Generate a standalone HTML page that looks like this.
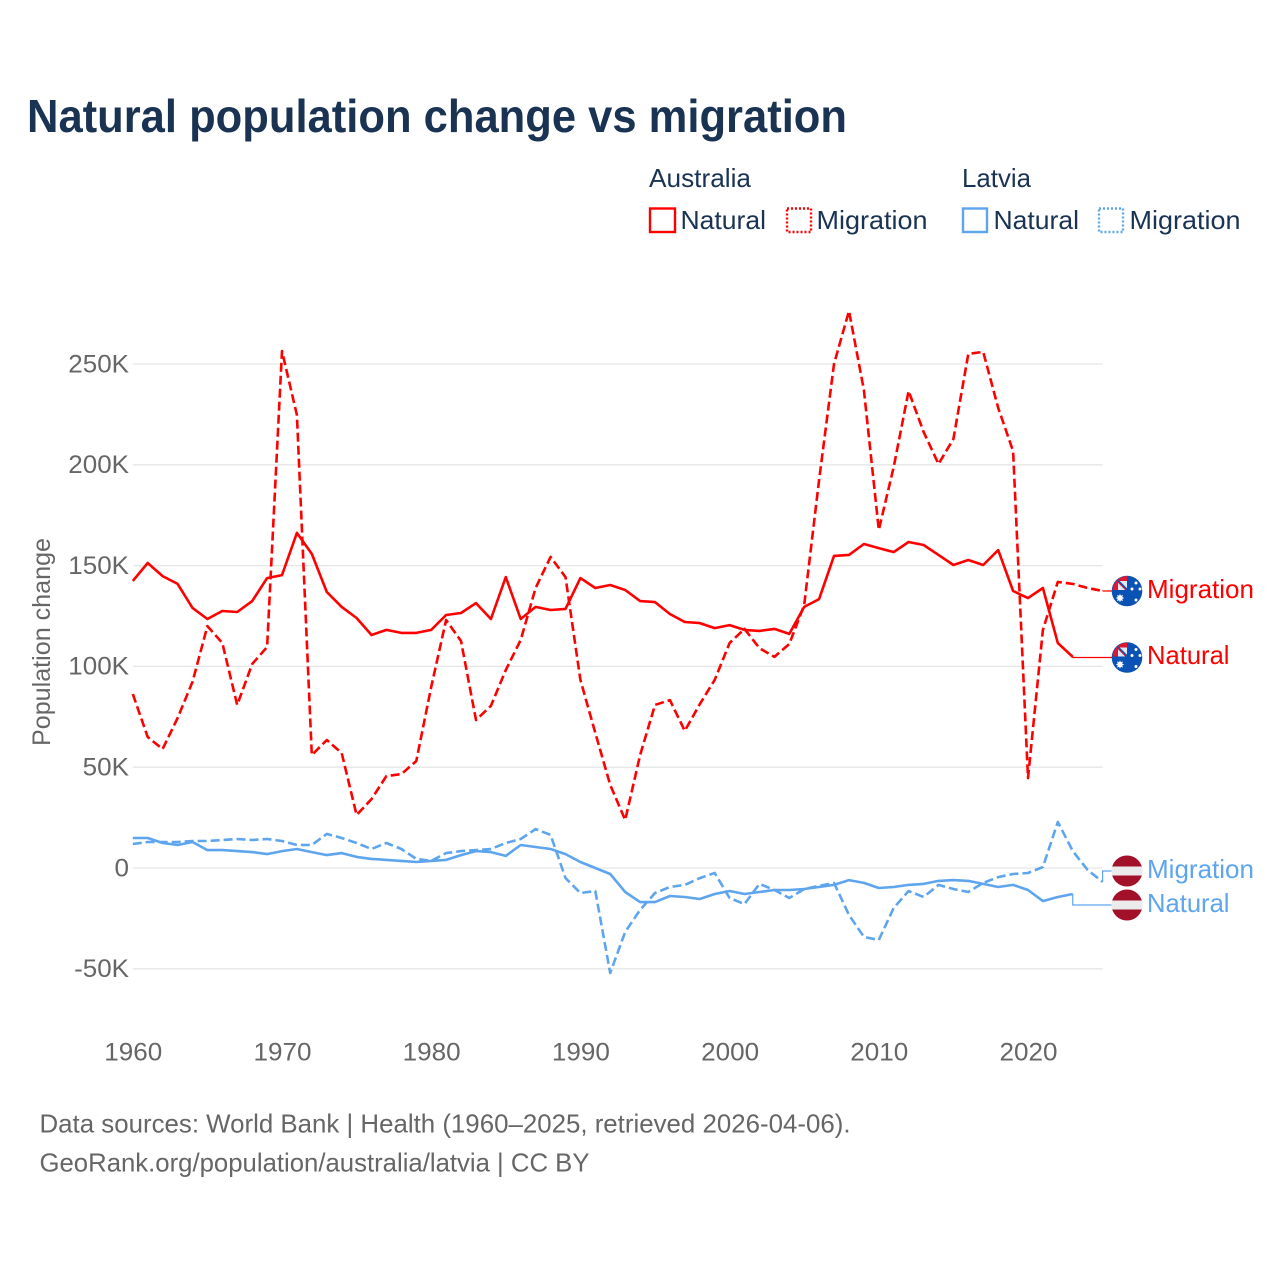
<!DOCTYPE html>
<html lang="en">
<head>
<meta charset="utf-8">
<title>Natural population change vs migration</title>
<style>
html,body{margin:0;padding:0;background:#fff;}
svg{display:block;font-family:"Liberation Sans",sans-serif;}
</style>
</head>
<body>
<svg id="chart" xmlns="http://www.w3.org/2000/svg" width="1280" height="1280" viewBox="0 0 1280 1280">
  <rect x="0" y="0" width="1280" height="1280" fill="#fff"/>
  <text x="27" y="132" font-size="46" font-weight="700" fill="#1a3353" textLength="820" lengthAdjust="spacingAndGlyphs">Natural population change vs migration</text>

  <g font-size="26" fill="#1a3353">
    <text x="649" y="187" textLength="102" lengthAdjust="spacingAndGlyphs">Australia</text>
    <text x="962" y="187" textLength="69" lengthAdjust="spacingAndGlyphs">Latvia</text>
    <g>
      <rect x="650" y="208.5" width="25" height="23.5" fill="none" stroke="#ff0000" stroke-width="2.4"/>
      <text x="680.5" y="229" textLength="85.5" lengthAdjust="spacingAndGlyphs">Natural</text>
    </g>
    <g>
      <rect x="787" y="208.5" width="24" height="23.5" fill="none" stroke="#ff0000" stroke-width="2.4" stroke-dasharray="2 2"/>
      <text x="816.5" y="229" textLength="111" lengthAdjust="spacingAndGlyphs">Migration</text>
    </g>
    <g>
      <rect x="963" y="208.5" width="24" height="23.5" fill="none" stroke="#5ea5ee" stroke-width="2.4"/>
      <text x="993.5" y="229" textLength="85.5" lengthAdjust="spacingAndGlyphs">Natural</text>
    </g>
    <g>
      <rect x="1099" y="208.5" width="24" height="23.5" fill="none" stroke="#5ea5ee" stroke-width="2.4" stroke-dasharray="2 2"/>
      <text x="1129.5" y="229" textLength="111" lengthAdjust="spacingAndGlyphs">Migration</text>
    </g>
  </g>

  <g id="grid"></g>
  <g id="yticks" font-size="25" fill="#666"></g>
  <g id="xticks" font-size="25" fill="#666"></g>
  <text transform="translate(50,746) rotate(-90)" x="0" y="0" font-size="25" fill="#666" textLength="208" lengthAdjust="spacingAndGlyphs">Population change</text>

  <g id="series" fill="none"></g>
  <g id="labels"></g>

  <g font-size="26" fill="#666">
    <text x="39.5" y="1132.5" textLength="811" lengthAdjust="spacingAndGlyphs">Data sources: World Bank | Health (1960–2025, retrieved 2026-04-06).</text>
    <text x="39.5" y="1171.5" textLength="550" lengthAdjust="spacingAndGlyphs">GeoRank.org/population/australia/latvia | CC BY</text>
  </g>
</svg>
<script>
const startYear = 1960;
const xTickYears = [1960, 1970, 1980, 1990, 2000, 2010, 2020];
const yTickValues = [-50, 0, 50, 100, 150, 200, 250];
const australiaNatural = [142.4,151.3,144.8,140.9,129,123.5,127.5,127,132.4,143.8,
  145.3,166.2,155.8,136.9,129.5,124,115.6,118.1,116.6,116.6,
  118.1,125.5,126.5,131.4,123.5,144.3,123.5,129.5,128,128.5,
  143.8,138.9,140.4,137.9,132.4,131.9,126,122,121.5,119,
  120.5,118.1,117.6,118.6,116.1,129.5,133.4,154.8,155.3,160.7,
  158.7,156.7,161.7,160.2,155.3,150.3,152.8,150.3,157.7,137.4,
  133.9,138.9,111.6,104.7];
const australiaMigration = [86.3,65,59,74.4,92.3,120,111.6,80.9,101.2,109.6,
  256.4,224.7,56,63.5,57,26.3,34.2,45.6,46.6,53.1,
  89.8,123,112.6,73.4,80.4,98.2,113.1,138.9,154.3,144.3,
  93.3,67,41.2,23.8,56,80.9,83.3,68,81.3,93.3,
  111.6,118.6,109.1,104.7,111.1,130.5,192.5,250,276.3,237.1,
  167.7,198.9,236.6,216.3,200.4,212.8,255,256,228.2,206.8,
  44.6,118.1,141.9,140.9,138.9,137.4];
const latviaNatural = [14.9,14.9,12.4,11.4,12.9,8.9,8.9,8.4,7.9,6.9,
  8.4,9.4,7.9,6.4,7.4,5.5,4.5,4,3.5,3,
  3.5,4,6.4,8.4,7.9,6,11.4,10.4,9.4,6.9,
  3,0,-3,-11.9,-16.9,-16.9,-13.9,-14.4,-15.4,-12.9,
  -11.4,-12.9,-11.9,-10.9,-10.9,-10.4,-9.4,-8.4,-6,-7.4,
  -9.9,-9.4,-8.4,-7.9,-6.4,-6,-6.4,-7.9,-9.4,-8.4,
  -10.9,-16.4,-14.4,-12.9];
const latviaMigration = [11.9,12.9,12.9,12.9,13.4,13.4,13.9,14.4,13.9,14.4,
  13.4,11.4,11.4,16.9,14.9,12.4,9.4,12.4,9.4,4.5,
  3.5,7.4,8.4,8.9,9.4,12.4,14.4,19.3,16.4,-5,
  -12.4,-11.4,-52.1,-31.7,-20.8,-12.4,-9.4,-8.4,-5,-2.5,
  -14.9,-17.9,-7.9,-10.9,-14.9,-10.4,-8.9,-7.4,-23.3,-34.2,
  -35.7,-19.8,-11.4,-14.4,-8.4,-10.4,-11.9,-7.4,-4.5,-3,
  -2.5,0.5,22.8,8.4,-1,-6.9];

const NS = 'http://www.w3.org/2000/svg';
const RED = '#ff0000';
const BLUE = '#5ea5ee';
const AXIS_LEFT = 132.8;
const AXIS_RIGHT = 1102.6;
function xScale(year) { return AXIS_LEFT + (year - 1960) * 14.92; }
function yScale(value) { return 868 - value * 2.016; }
function make(tag, attrs, parent) {
  const el = document.createElementNS(NS, tag);
  for (const k in attrs) el.setAttribute(k, attrs[k]);
  parent.appendChild(el);
  return el;
}
function tickLabel(v) { return v === 0 ? '0' : v + 'K'; }

const gridG = document.getElementById('grid');
const yG = document.getElementById('yticks');
const xG = document.getElementById('xticks');
yTickValues.forEach(function (v) {
  const line = make('line', {x1: AXIS_LEFT, x2: AXIS_RIGHT, y1: yScale(v), y2: yScale(v), stroke: '#e6e6e6', 'stroke-width': 1.3}, gridG);
  
  
  const t = make('text', {x: 129, y: yScale(v) + 8.3, 'text-anchor': 'end'}, yG);
  t.textContent = tickLabel(v);
  
  
  t.setAttribute('textLength', (t.getComputedTextLength() * 1.04).toFixed(1));
  t.setAttribute('lengthAdjust', 'spacingAndGlyphs');
});
xTickYears.forEach(function (yr) {
  const t = make('text', {x: xScale(yr) + 0.5, y: 1060.3, 'text-anchor': 'middle', textLength: 58, lengthAdjust: 'spacingAndGlyphs'}, xG);
  t.textContent = yr;
  
  
});

const seriesG = document.getElementById('series');
const labelsG = document.getElementById('labels');

function drawSeries(values, color, dashed, name) {
  const pts = values.map(function (v, i) { return xScale(startYear + i).toFixed(1) + ',' + yScale(v).toFixed(1); });
  const attrs = {points: pts.join(' '), stroke: color, 'stroke-width': 2.6, 'stroke-linejoin': 'round'};
  if (dashed) attrs['stroke-dasharray'] = '9 4';
  const line = make('polyline', attrs, seriesG);
  
  
}
function drawConnector(values, labelY, color, name) {
  const i = values.length - 1;
  const x = xScale(startYear + i);
  const y = yScale(values[i]);
  const line = make('polyline', {points: x + ',' + y + ' ' + x + ',' + labelY + ' 1112,' + labelY, stroke: color, 'stroke-width': 1.2, fill: 'none'}, seriesG);
  
  
}
function drawAustraliaFlag(cy) {
  const g = make('g', {}, labelsG);
  
  
  make('circle', {cx: 1127, cy: cy, r: 15.3, fill: '#0a52b3'}, g);
  make('path', {d: 'M1112.5,' + (cy - 1) + 'A15,15 0 0 1 1127,' + (cy - 15) + 'V' + (cy - 1) + 'Z', fill: '#e0172f'}, g);
  make('path', {d: 'M1118,' + (cy - 10) + 'H1127V' + (cy - 1) + 'H1118Z', fill: '#dfe6f4'}, g);
  make('path', {d: 'M1118,' + (cy - 10) + 'L1127,' + (cy - 1), stroke: '#0a52b3', 'stroke-width': 2.4, fill: 'none'}, g);
  make('path', {d: 'M1118,' + (cy - 9) + 'L1126,' + (cy - 1), stroke: '#e0172f', 'stroke-width': 1, fill: 'none'}, g);
  const star = make('text', {x: 1120, y: cy + 11, 'font-size': 11, fill: '#fff', 'text-anchor': 'middle'}, g);
  star.textContent = '✸';
  const offsets = [[9, -8], [13, -2], [5, -2], [9, 9]];
  offsets.forEach(function (o) {
    make('circle', {cx: 1127 + o[0], cy: cy + o[1], r: 1.5, fill: '#fff'}, g);
  });
}
function drawLatviaFlag(cy) {
  const g = make('g', {}, labelsG);
  
  
  make('circle', {cx: 1127, cy: cy, r: 15.5, fill: '#a3102a'}, g);
  make('rect', {x: 1111.5, y: cy - 4.5, width: 31, height: 9, fill: '#ebebeb'}, g);
}
function drawLabel(text, baseline, color, width) {
  const t = make('text', {x: 1147, y: baseline, 'font-size': 26, fill: color, textLength: width, lengthAdjust: 'spacingAndGlyphs'}, labelsG);
  t.textContent = text;
  
  
}

drawSeries(latviaNatural, BLUE, false, 'line-latvia-natural');
drawSeries(latviaMigration, BLUE, true, 'line-latvia-migration');
drawSeries(australiaNatural, RED, false, 'line-australia-natural');
drawSeries(australiaMigration, RED, true, 'line-australia-migration');

drawConnector(australiaNatural, 657.5, RED, 'connector-australia-natural');
drawConnector(australiaMigration, 591, RED, 'connector-australia-migration');
drawConnector(latviaNatural, 905, BLUE, 'connector-latvia-natural');
drawConnector(latviaMigration, 871, BLUE, 'connector-latvia-migration');

drawAustraliaFlag(591);
drawAustraliaFlag(657.5);
drawLatviaFlag(871);
drawLatviaFlag(905);
drawLabel('Migration', 598, RED, 107);
drawLabel('Natural', 664, RED, 82.5);
drawLabel('Migration', 878, BLUE, 107);
drawLabel('Natural', 912, BLUE, 82.5);
</script>
</body>
</html>
